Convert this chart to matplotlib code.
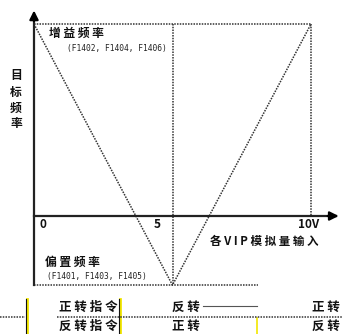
import matplotlib
matplotlib.use("Agg")
import matplotlib.pyplot as plt

plt.rcParams['font.family'] = ['Noto Sans CJK SC', 'DejaVu Sans']

# data: analog input (V) vs target frequency (% of gain)
vin = [0, 5, 10]
freq = [100, -36, 100]
gain = 100
bias = -36

W, H = 342, 334
fig = plt.figure(figsize=(W / 100, H / 100), dpi=100)
ax = fig.add_axes([0, 0, 1, 1])
ax.axis("off")

# pixel mapping: x_px = 34 + 27.7*v, y_px(top) = 216 - 1.92*f
ax.set_xlim(-34 / 27.7, (W - 34) / 27.7)
ax.set_ylim((216 - H) / 1.92, 216 / 1.92)

dot = dict(color="#333333", lw=1.1, linestyle=(0, (1, 0.8)))

# characteristic V-shape
ax.plot(vin, freq, **dot)
# guide lines
ax.plot([0, 10], [gain, gain], **dot)
ax.plot([5, 5], [gain, bias], **dot)
ax.plot([10, 10], [gain, 0], **dot)
ax.plot([0, 8.1], [bias, bias], **dot)

# axes with arrows
ax.plot([0, 0], [bias, 104], color="#222222", lw=1.6)
ax.annotate("", xy=(0, 108.5), xytext=(0, 100),
            arrowprops=dict(arrowstyle="-|>", color="black", lw=1.6, mutation_scale=13))
ax.plot([0, 10.9], [0, 0], color="#222222", lw=1.6)
ax.annotate("", xy=(11.1, 0), xytext=(10.5, 0),
            arrowprops=dict(arrowstyle="-|>", color="black", lw=1.6, mutation_scale=13))

def px(x, y):
    return x / W, 1 - y / H

kw = dict(fontweight="bold", color="#111111")
fig.text(*px(43, 224), "0", fontsize=8.5, ha="center", va="center", **kw)
fig.text(*px(157, 224), "5", fontsize=8.5, ha="center", va="center", **kw)
fig.text(*px(309, 225), "10V", fontsize=8.5, ha="center", va="center", **kw)

fig.text(*px(76, 33), "增 益 频 率", fontsize=8.5, ha="center", va="center", **kw)
fig.text(*px(117, 48), "(F1402, F1404, F1406)", fontsize=5.7, ha="center", va="center",
         family="DejaVu Sans Mono", color="#222222")
fig.text(*px(72, 262), "偏 置 频 率", fontsize=8.5, ha="center", va="center", **kw)
fig.text(*px(97, 276), "(F1401, F1403, F1405)", fontsize=5.7, ha="center", va="center",
         family="DejaVu Sans Mono", color="#222222")
fig.text(*px(16, 100), "目\n标\n频\n率", fontsize=8.5, ha="center", va="center",
         linespacing=1.3, **kw)
fig.text(*px(264, 241), "各 V I P 模 拟 量 输 入", fontsize=8.3, ha="center", va="center", **kw)

# direction table
rows = ["正 转 指 令", "反 转 指 令"]
left_dir = ["反 转", "正 转"]
right_dir = ["正 转", "反 转"]
row_y = [307, 326]
for r, a, b, y in zip(rows, left_dir, right_dir, row_y):
    fig.text(*px(88, y), r, fontsize=9, ha="center", va="center", **kw)
    fig.text(*px(186, y), a, fontsize=9, ha="center", va="center", **kw)
    fig.text(*px(326, y), b, fontsize=9, ha="center", va="center", **kw)

def vline(x, y0, y1, color, lw):
    fig.add_artist(plt.Line2D([x / W, x / W], [1 - y0 / H, 1 - y1 / H], color=color, lw=lw))

def hline(x0, x1, y, **k):
    fig.add_artist(plt.Line2D([x0 / W, x1 / W], [1 - y / H, 1 - y / H], **k))

vline(26.5, 299, 334, "#f2e600", 2.0)
vline(25.5, 299, 334, "#111111", 0.8)
vline(119.5, 299, 334, "#f2e600", 2.0)
vline(118.5, 299, 334, "#111111", 0.8)
vline(257, 318, 334, "#f2e600", 1.2)

hline(0, 25, 317, **dot)
hline(57, 342, 316.5, **dot)
hline(203, 257, 306, color="#555555", lw=0.8)

fig.savefig("out.png", dpi=100)
